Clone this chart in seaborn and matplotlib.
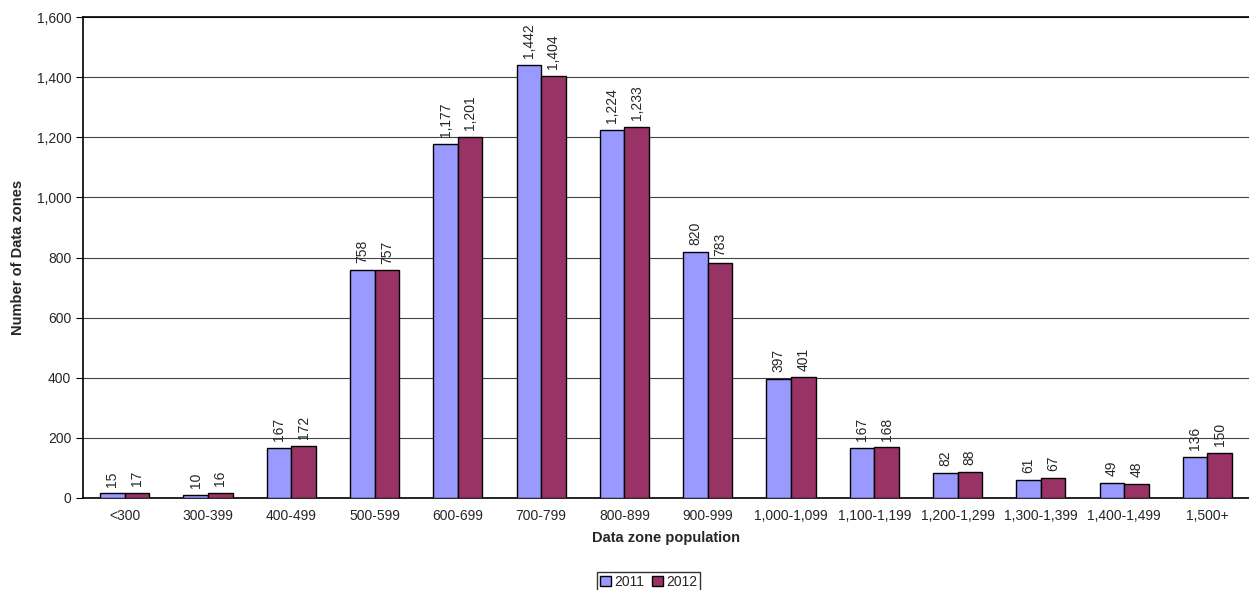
import matplotlib
matplotlib.use("Agg")
import matplotlib.pyplot as plt
import seaborn as sns
import pandas as pd
from matplotlib.ticker import FuncFormatter, FixedLocator

categories = ["<300", "300-399", "400-499", "500-599", "600-699", "700-799", "800-899",
              "900-999", "1,000-1,099", "1,100-1,199", "1,200-1,299", "1,300-1,399",
              "1,400-1,499", "1,500+"]
values_2011 = [15, 10, 167, 758, 1177, 1442, 1224, 820, 397, 167, 82, 61, 49, 136]
values_2012 = [17, 16, 172, 757, 1201, 1404, 1233, 783, 401, 168, 88, 67, 48, 150]
years = ["2011", "2012"]
colors = ["#9999FF", "#993366"]

df = pd.DataFrame({
    "category": categories * 2,
    "year": [years[0]] * len(categories) + [years[1]] * len(categories),
    "count": values_2011 + values_2012,
})

sns.set_style("white")
plt.rcParams["font.family"] = ["Liberation Sans", "DejaVu Sans"]

fig = plt.figure(figsize=(12.49, 5.9), dpi=100)
ax = fig.add_axes([0.0665, 0.156, 0.9335, 0.815])

sns.barplot(data=df, x="category", y="count", hue="year", palette=colors,
            saturation=1, width=0.59, edgecolor="black", linewidth=1.0, ax=ax, zorder=3)

for container in ax.containers:
    ax.bar_label(container, labels=[f"{int(v.get_height()):,}" for v in container],
                 rotation=90, padding=5, fontsize=10)

ax.set_ylim(0, 1600)
ax.set_xlim(-0.5, len(categories) - 0.5)
ax.set_yticks(range(0, 1601, 200))
ax.yaxis.set_major_formatter(FuncFormatter(lambda v, p: f"{int(v):,}"))
ax.yaxis.grid(True, color="#444444", linewidth=0.8, zorder=0)
ax.set_axisbelow(True)

# ticks sit between categories
ax.xaxis.set_minor_locator(FixedLocator([i + 0.5 for i in range(-1, len(categories))]))
ax.tick_params(axis="x", which="major", length=0, labelsize=10, pad=8)
ax.tick_params(axis="x", which="minor", length=5, width=0.8, color="black", direction="out")
ax.tick_params(axis="y", length=5, width=0.8, color="black", direction="out", labelsize=10, left=True)

for side in ["left", "top", "bottom"]:
    ax.spines[side].set_color("black")
    ax.spines[side].set_linewidth(1.2)
ax.spines["right"].set_visible(False)

ax.set_xlabel("Data zone population", fontsize=10.5, fontweight="bold", labelpad=6)
ax.set_ylabel("Number of Data zones", fontsize=10.5, fontweight="bold", labelpad=8)

ax.legend(loc="upper center", bbox_to_anchor=(0.485, -0.14), ncol=2, frameon=True,
          fancybox=False, edgecolor="black", fontsize=10, handlelength=0.8,
          handleheight=0.8, handletextpad=0.2, columnspacing=0.6, borderpad=0.2)

fig.savefig("out.png", dpi=100)
